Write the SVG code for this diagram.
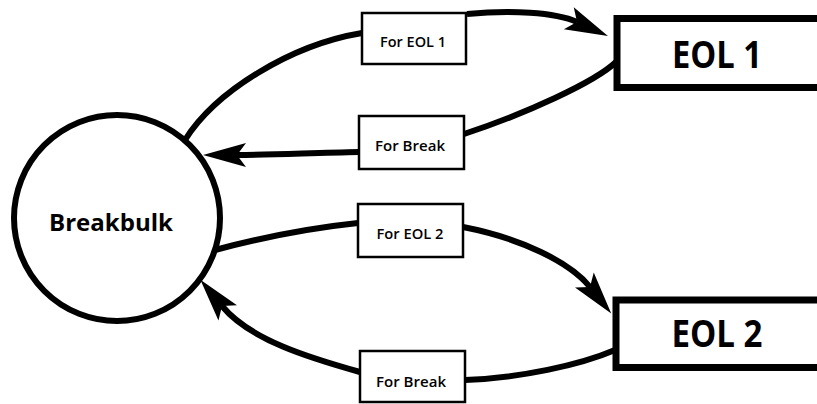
<svg xmlns="http://www.w3.org/2000/svg" width="817" height="404" viewBox="0 0 817 404">
  <style>
    .flow { fill: none; stroke: #000; stroke-width: 6; stroke-linecap: butt; }
    .hub { fill: #fff; stroke: #000; stroke-width: 6; }
    .term { fill: #fff; stroke: #000; stroke-width: 7; }
    .tag { fill: #fff; stroke: #000; stroke-width: 2.5; }
    .tagtext { font-family: "Open Sans", "Liberation Sans", sans-serif; font-size: 13.5px; font-weight: 600; fill: #000; text-anchor: middle; }
    .bigtext { font-family: "Open Sans", "Liberation Sans", sans-serif; font-weight: bold; fill: #000; text-anchor: middle; }
  </style>
  <defs>
    <marker id="head" markerUnits="userSpaceOnUse" markerWidth="50" markerHeight="30" viewBox="-10 -15 50 30" refX="0" refY="0" orient="auto" overflow="visible">
      <path d="M34,0 L-9,-12 L0,0 L-9,12 Z" fill="#000"/>
    </marker>
  </defs>

  <rect width="817" height="404" fill="#fff"/>

  <!-- connectors: each route passes through its label box -->
  <g id="connectors">
    <path class="flow" d="M185,140 C 215,92 290,45 362,33"/>
    <path class="flow" d="M467,14 C 510,10 555,12 577,22" marker-end="url(#head)"/>
    <path class="flow" d="M616,62 C 595,82 525,114 464,134"/>
    <path class="flow" d="M359,152 C 310,153 270,155 237,155" marker-end="url(#head)"/>
    <path class="flow" d="M215,250 C 260,238 310,228 358,223"/>
    <path class="flow" d="M463,227 C 520,238 570,262 590,287" marker-end="url(#head)"/>
    <path class="flow" d="M615,350 C 580,365 520,378 465,380"/>
    <path class="flow" d="M360,372 C 310,358 250,340 222,306" marker-end="url(#head)"/>
  </g>

  <g id="breakbulk">
    <circle class="hub" cx="117" cy="218" r="103"/>
    <text class="bigtext" x="111" y="231" font-size="24" textLength="124" lengthAdjust="spacingAndGlyphs">Breakbulk</text>
  </g>

  <g id="eol1">
    <rect class="term" x="617" y="18.5" width="220" height="69"/>
    <text class="bigtext" x="717" y="68" font-size="38" textLength="90" lengthAdjust="spacingAndGlyphs">EOL 1</text>
  </g>

  <g id="eol2">
    <rect class="term" x="616" y="300" width="220" height="67.5"/>
    <text class="bigtext" x="717" y="347" font-size="37" textLength="91" lengthAdjust="spacingAndGlyphs">EOL 2</text>
  </g>

  <g id="tag-for-eol1">
    <rect class="tag" x="362" y="13" width="104" height="51"/>
    <text class="tagtext" x="413" y="47" textLength="66" lengthAdjust="spacingAndGlyphs">For EOL 1</text>
  </g>

  <g id="tag-break-1">
    <rect class="tag" x="359" y="116" width="105" height="53"/>
    <text class="tagtext" x="410" y="151" textLength="70" lengthAdjust="spacingAndGlyphs">For Break</text>
  </g>

  <g id="tag-for-eol2">
    <rect class="tag" x="358" y="204" width="105" height="53"/>
    <text class="tagtext" x="410" y="239" textLength="67" lengthAdjust="spacingAndGlyphs">For EOL 2</text>
  </g>

  <g id="tag-break-2">
    <rect class="tag" x="360" y="351" width="105" height="51"/>
    <text class="tagtext" x="411" y="387" textLength="70" lengthAdjust="spacingAndGlyphs">For Break</text>
  </g>
</svg>
